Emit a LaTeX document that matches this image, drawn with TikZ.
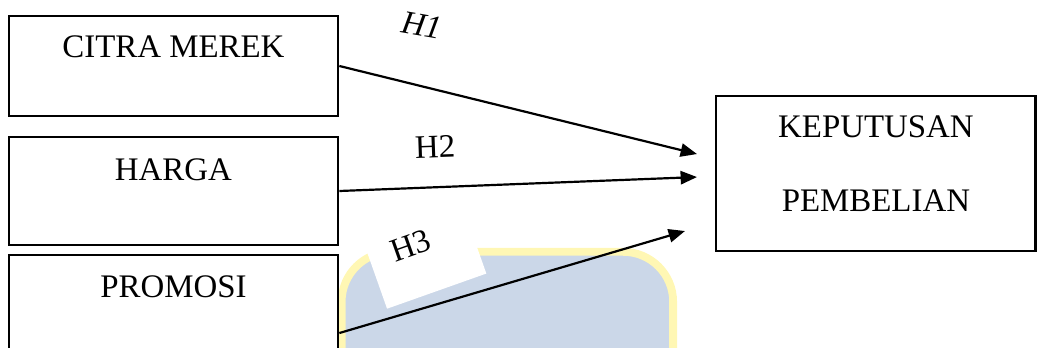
\documentclass[tikz,border=0pt]{standalone}
\usepackage{fontspec}
\setmainfont{Liberation Serif}
\usepackage{xcolor}
\usetikzlibrary{arrows.meta,positioning}

\definecolor{markblue}{RGB}{203,215,232}
\definecolor{markyellow}{RGB}{255,247,180}

\tikzset{
    varbox/.style={draw, line width=1pt, inner ysep=0pt, align=center,
        font=\fontsize{12}{14.5}\selectfont},
    hyp/.style={font=\fontsize{12}{14.5}\selectfont, inner sep=1pt},
    path/.style={line width=0.8pt, -{Triangle[length=0.21cm,width=0.17cm]}}
}

\begin{document}
\begin{tikzpicture}[scale=1.0]
    \useasboundingbox (0, 0) rectangle (13.308, 4.449);

    % faint logo behind the lower arrow
    \draw[markyellow, fill=markblue, line width=0.1cm, rounded corners=0.64cm]
        (4.38, -2) rectangle (8.63, 1.22);

    % independent variables
    \node[varbox, minimum width=4.218cm, text height=0.538cm, text depth=0.744cm]
        (citra) at (2.224, 3.603) {CITRA MEREK};
    \node[varbox, minimum width=4.218cm, text height=0.564cm, text depth=0.821cm]
        (harga) at (2.224, 2.0) {HARGA};
    \node[varbox, minimum width=4.218cm, text height=0.538cm, text depth=1.462cm]
        (promosi) at (2.224, 0.179) {PROMOSI};

    % dependent variable
    \node[varbox, text width=3.9cm, inner xsep=0.1cm, text height=0.526cm, text depth=1.462cm]
        (keputusan) at (11.23, 2.224) {KEPUTUSAN\\[0.44cm]PEMBELIAN};

    % arrow ends in front of the box
    \coordinate (k1) at (8.936, 2.474);
    \coordinate (k2) at (8.936, 2.179);
    \coordinate (k3) at (8.782, 1.487);

    \draw[path] (citra.east) -- (k1);
    \draw[path] (harga.east) -- (k2);
    \draw[path] (promosi.east) -- (k3);

    % hypothesis labels
    \node[hyp, rotate=-10] (h1) at (5.41, 4.128) {\textit{H1}};
    \node[hyp, rotate=2] (h2) at (5.577, 2.564) {H2};
    \node[hyp, fill=white, rotate=19.5, inner xsep=0.3cm, inner ysep=0.02cm,
        text width=0.75cm, align=left, text height=0.28cm, text depth=0.5cm]
        (h3) at (5.462, 1.103) {H3};
\end{tikzpicture}
\end{document}
